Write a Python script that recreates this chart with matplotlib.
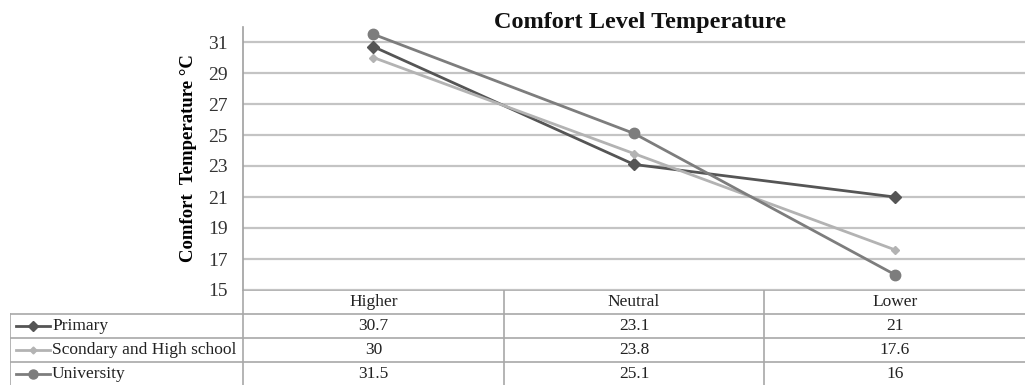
import matplotlib
matplotlib.use("Agg")
import matplotlib.pyplot as plt

# comfort temperature by education level
categories = ["Higher", "Neutral", "Lower"]
series_names = ["Primary", "Scondary and High school", "University"]
primary = [30.7, 23.1, 21]
secondary = [30, 23.8, 17.6]
university = [31.5, 25.1, 16]
yticks = [15, 17, 19, 21, 23, 25, 27, 29, 31]

series = [primary, secondary, university]
colors = ["#555555", "#b3b3b3", "#7d7d7d"]
markers = ["D", "D", "o"]
msizes = [6.5, 4.5, 7.5]

plt.rcParams['font.family'] = ['Liberation Serif', 'DejaVu Serif']

W, H = 1025, 385
fig = plt.figure(figsize=(W / 100, H / 100), dpi=100)

left_px, right_px = 243, 1025
top_px, axis_px = 26.5, 290
ax = fig.add_axes([left_px / W, 1 - axis_px / H, (right_px - left_px) / W, (axis_px - top_px) / H])

x = list(range(len(categories)))
for vals, c, m, ms in zip(series, colors, markers, msizes):
    ax.plot(x, vals, color=c, lw=2, marker=m, ms=ms, zorder=3)

ax.set_xlim(-0.5, len(categories) - 0.5)
ax.set_ylim(15, 32)
ax.set_yticks(yticks)
ax.set_xticks([])
ax.grid(axis='y', color='#c4c4c4', lw=1.6)
ax.set_axisbelow(True)
for s in ['top', 'right', 'bottom']:
    ax.spines[s].set_visible(False)
ax.spines['left'].set_color('#a0a0a0')
ax.spines['left'].set_linewidth(1.2)
ax.tick_params(axis='y', length=0, pad=11, labelsize=14, labelcolor='#333333')
ax.set_ylabel("Comfort  Temperature °C", fontsize=13.5, fontweight='bold', labelpad=8)
fig.text(640 / W, 1 - 28 / H, "Comfort Level Temperature", ha='center', va='baseline',
         fontsize=17.5, fontweight='bold', color='#111111')

# data table under the plot
tleft = 10
unit = (right_px - left_px) / len(categories)
tb = fig.add_axes([tleft / W, 0, (W - tleft) / W, (H - axis_px) / H])
tb.set_xlim(-0.5 - (left_px - tleft) / unit, len(categories) - 0.5)
tb.set_ylim(H - axis_px, 0)
tb.axis('off')

row_h = 24
line_kw = dict(color='#a8a8a8', lw=1.2)
tb.plot([-0.5, len(categories) - 0.5], [0, 0], **line_kw)
for i in range(1, len(series) + 1):
    tb.plot([tb.get_xlim()[0], len(categories) - 0.5], [i * row_h, i * row_h], **line_kw)
for b in range(len(categories)):
    tb.plot([b - 0.5, b - 0.5], [0, 120], **line_kw)
tb.plot([tb.get_xlim()[0]] * 2, [row_h, 120], **line_kw)

tsize = 12.5
for j, cat in enumerate(categories):
    tb.text(j, row_h / 2, cat, ha='center', va='center', fontsize=tsize, color='#222222')

x0 = tb.get_xlim()[0]
px = 1 / unit
for i, (name, vals, c, m, ms) in enumerate(zip(series_names, series, colors, markers, msizes)):
    yc = (i + 1.5) * row_h
    tb.plot([x0 + 6 * px, x0 + 40 * px], [yc, yc], color=c, lw=2)
    tb.plot([x0 + 23 * px], [yc], color=c, marker=m, ms=ms - 1)
    tb.text(x0 + 42 * px, yc, name, ha='left', va='center', fontsize=tsize, color='#222222')
    for j, v in enumerate(vals):
        tb.text(j, yc, f"{v:g}", ha='center', va='center', fontsize=tsize, color='#222222')

fig.savefig("out.png", dpi=100)
